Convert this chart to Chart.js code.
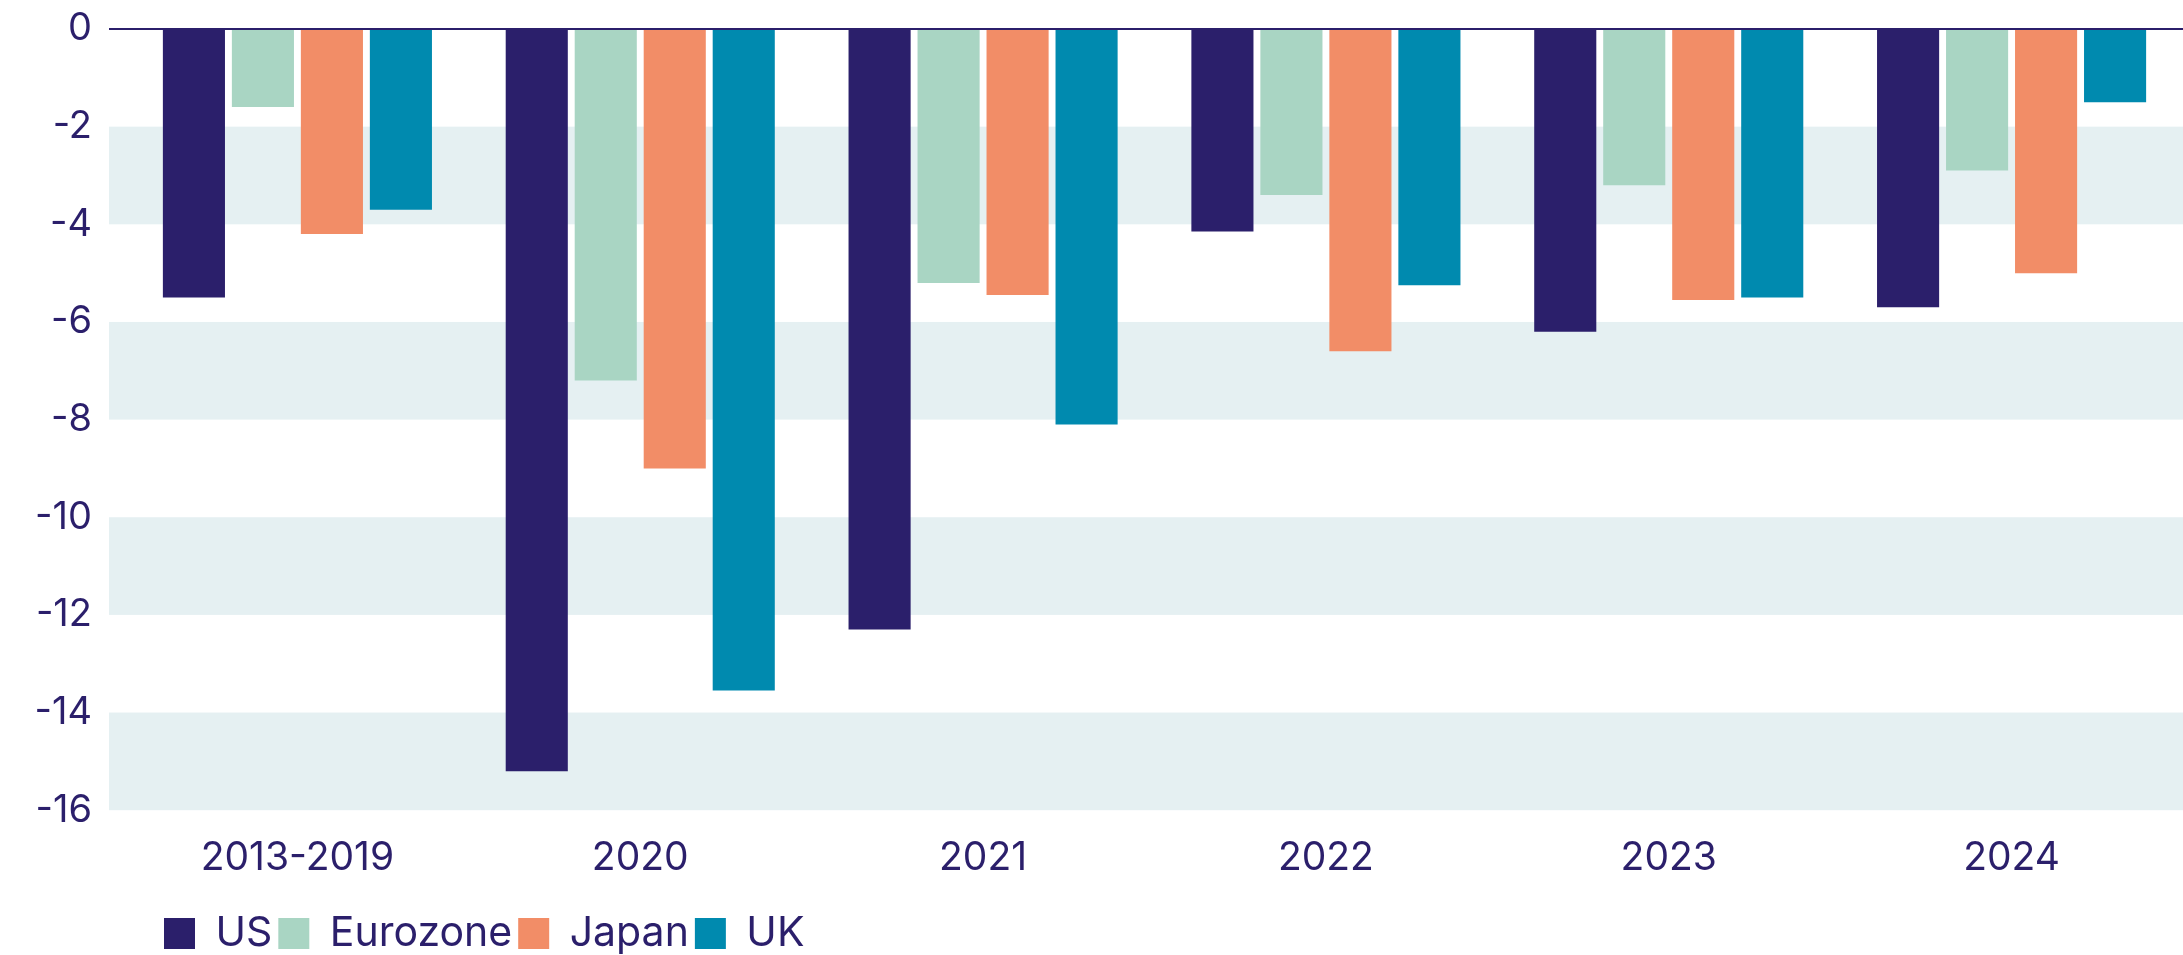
<!DOCTYPE html>
<html>
<head>
<meta charset="utf-8">
<title>Fiscal balances</title>
<script src="https://cdn.jsdelivr.net/npm/chart.js@4.4.1/dist/chart.umd.min.js"></script>
<style>
    html, body { margin: 0; padding: 0; background: #ffffff; }
    #wrap { position: relative; width: 2183px; height: 955px; }
</style>
</head>
<body>
<div id="wrap"><canvas id="chart"></canvas></div>
<script>
    'use strict';

    // Data
    const categories = ['2013-2019', '2020', '2021', '2022', '2023', '2024'];
    const usValues = [-5.5, -15.2, -12.3, -4.15, -6.2, -5.7];
    const eurozoneValues = [-1.6, -7.2, -5.2, -3.4, -3.2, -2.9];
    const japanValues = [-4.2, -9.0, -5.45, -6.6, -5.55, -5.0];
    const ukValues = [-3.7, -13.55, -8.1, -5.25, -5.5, -1.5];
    const yTicks = [0, -2, -4, -6, -8, -10, -12, -14, -16];
    const shadedBands = [[-2, -4], [-6, -8], [-10, -12], [-14, -16]];

    const textColor = '#2b1f6b';
    const bandColor = '#e5f0f2';
    const fontFamily = 'Inter, Roboto, sans-serif';

    /**
     * Alternate shaded bands behind the bars, zero line on top
     */
    const bandsPlugin = {
        id: 'bands',
        beforeDatasetsDraw(chart) {
            const ctx = chart.ctx;
            const y = chart.scales.y;
            ctx.save();
            ctx.fillStyle = bandColor;
            shadedBands.forEach(function(band) {
                const top = y.getPixelForValue(band[0]);
                const bottom = y.getPixelForValue(band[1]);
                ctx.fillRect(109, top, chart.width - 109, bottom - top);
            });
            ctx.restore();
        },
        afterDatasetsDraw(chart) {
            const ctx = chart.ctx;
            const y0 = chart.scales.y.getPixelForValue(0);
            ctx.save();
            ctx.strokeStyle = textColor;
            ctx.lineWidth = 2;
            ctx.beginPath();
            ctx.moveTo(109, y0);
            ctx.lineTo(chart.width, y0);
            ctx.stroke();
            ctx.restore();
        },
        afterLayout(chart) {
            // legend starts under the first group, not at the canvas edge
            chart.legend.left = 158;
        }
    };

    const ctx = document.getElementById('chart').getContext('2d');
    new Chart(ctx, {
        type: 'bar',
        data: {
            labels: categories,
            datasets: [
                { label: 'US', data: usValues, backgroundColor: '#2b1f6b' },
                { label: 'Eurozone', data: eurozoneValues, backgroundColor: '#a9d5c3' },
                { label: 'Japan', data: japanValues, backgroundColor: '#f28d67' },
                { label: 'UK', data: ukValues, backgroundColor: '#008aaf' }
            ]
        },
        options: {
            responsive: true,
            maintainAspectRatio: false,
            animation: false,
            layout: {
                padding: { top: 29, right: 0, bottom: -9, left: 0 }
            },
            datasets: {
                bar: {
                    categoryPercentage: 0.805,
                    barPercentage: 0.9,
                    borderWidth: 0
                }
            },
            plugins: {
                legend: {
                    position: 'bottom',
                    align: 'start',
                    labels: {
                        color: textColor,
                        font: { family: fontFamily, size: 41 },
                        boxWidth: 31,
                        boxHeight: 31,
                        padding: 6
                    }
                },
                tooltip: { enabled: false }
            },
            scales: {
                x: {
                    grid: { display: false, drawTicks: false },
                    border: { display: false },
                    ticks: {
                        color: textColor,
                        font: { family: fontFamily, size: 39 },
                        padding: 25,
                        maxRotation: 0
                    }
                },
                y: {
                    min: -16,
                    max: 0,
                    afterBuildTicks(scale) {
                        scale.ticks = yTicks.map(function(v) { return { value: v }; });
                    },
                    afterFit(scale) {
                        scale.width = 126;
                        // tick padding is horizontal only here
                        scale.paddingTop = 0;
                        scale.paddingBottom = 0;
                    },
                    grid: { display: false, drawTicks: false },
                    border: { display: false },
                    ticks: {
                        color: textColor,
                        font: { family: fontFamily, size: 38 },
                        padding: 34
                    }
                }
            }
        },
        plugins: [bandsPlugin]
    });
</script>
</body>
</html>
